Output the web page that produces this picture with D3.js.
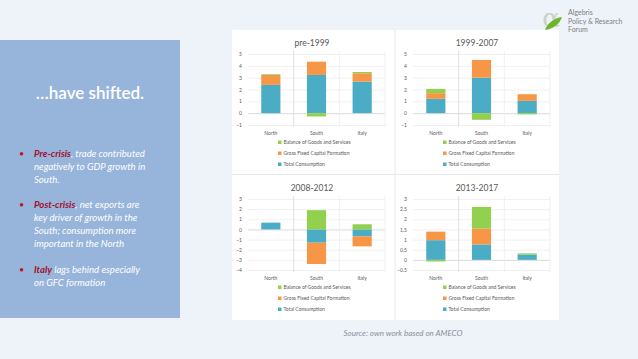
<!DOCTYPE html>
<html><head><meta charset="utf-8">
<script src="https://cdnjs.cloudflare.com/ajax/libs/d3/7.8.5/d3.min.js"></script>
<style>
html,body{margin:0;padding:0;background:#eef2f9;}
svg{display:block;}
</style></head>
<body><svg id="c" width="638" height="359"></svg>
<script>
const categories = ["North", "South", "Italy"];
const periods = ["pre-1999", "1999-2007", "2008-2012", "2013-2017"];
const seriesNames = ["Total Consumption", "Gross Fixed Capital Formation", "Balance of Goods and Services"];
const totalConsumption = [[2.39, 3.23, 2.67], [1.21, 3.0, 1.04], [0.67, -1.31, -0.67], [0.97, 0.76, 0.26]];
const grossFixedCapital = [[0.84, 1.12, 0.70], [0.48, 1.5, 0.56], [0.0, -2.1, -1.0], [0.42, 0.78, 0.0]];
const balanceGoodsServices = [[0.06, -0.28, 0.11], [0.36, -0.56, -0.1], [0.0, 1.9, 0.51], [-0.08, 1.07, 0.06]];
const yDomains = [[-1, 5], [-1, 5], [-4, 3], [-0.5, 3]];
const yTickValues = [[-1, 0, 1, 2, 3, 4, 5], [-1, 0, 1, 2, 3, 4, 5], [-4, -3, -2, -1, 0, 1, 2, 3], [-0.5, 0, 0.5, 1, 1.5, 2, 2.5, 3]];
const colors = ["#4bacc6", "#f79646", "#92d050"];

const svg = d3.select("#c");
svg.append("rect").attr("width", 638).attr("height", 359).attr("fill", "#eef2f9");

// left panel
svg.append("rect").attr("x", 0).attr("y", 40).attr("width", 180).attr("height", 278).attr("fill", "#97b4da");
svg.append("text").attr("x", 90).attr("y", 99).attr("text-anchor", "middle")
  .attr("font-family", "Lato").attr("font-size", 17).attr("font-weight", 600).attr("fill", "#ffffff")
  .text("\u2026have shifted.");

const bullets = [
  {y: 157, parts: [["Pre-crisis", true], [", trade contributed", false]], rest: ["negatively to GDP growth in", "South."]},
  {y: 208, parts: [["Post-crisis", true], [", net exports are", false]], rest: ["key driver of growth in the", "South; consumption more", "important in the North"]},
  {y: 273, parts: [["Italy", true], [" lags behind especially", false]], rest: ["on GFC formation"]}
];
const lh = 13;
bullets.forEach(b => {
  svg.append("text").attr("x", 19).attr("y", b.y).attr("font-family", "Lato").attr("font-size", 9)
    .attr("fill", "#c0102e").text("\u2022");
  const t = svg.append("text").attr("x", 34).attr("y", b.y).attr("font-family", "Lato")
    .attr("font-size", 9.6).attr("font-style", "italic").attr("fill", "#ffffff");
  b.parts.forEach(p => {
    t.append("tspan").attr("fill", p[1] ? "#a3122b" : "#ffffff").attr("font-weight", p[1] ? 700 : 400).text(p[0]);
  });
  b.rest.forEach((line, i) => {
    svg.append("text").attr("x", 34).attr("y", b.y + lh * (i + 1)).attr("font-family", "Lato")
      .attr("font-size", 9.6).attr("font-style", "italic").attr("fill", "#ffffff").text(line);
  });
});

// logo
const logo = svg.append("g");
logo.append("text").attr("x", 551).attr("y", 27).attr("text-anchor", "middle").attr("font-family", "DejaVu Serif")
  .attr("font-size", 26).attr("fill", "#c9d2c3").text("\u03b1");
logo.append("path").attr("d", "M545,30 C548,22 555,18 562,17 C560,24 553,29 545,30 Z").attr("fill", "#6fb52c");
["Algebris", "Policy & Research", "Forum"].forEach((s, i) => {
  logo.append("text").attr("x", 568).attr("y", 15 + i * 8.6).attr("font-family", "Lato").attr("font-size", 7)
    .attr("fill", "#808080").text(s);
});

// charts area
svg.append("rect").attr("x", 232).attr("y", 30).attr("width", 327).attr("height", 290).attr("fill", "#ffffff");
svg.append("line").attr("x1", 395).attr("x2", 395).attr("y1", 30).attr("y2", 320).attr("stroke", "#e6e8ea").attr("stroke-width", 1);
svg.append("line").attr("x1", 232).attr("x2", 559).attr("y1", 174.5).attr("y2", 174.5).attr("stroke", "#e6e8ea").attr("stroke-width", 1);

const panels = [{x: 230, y: 30}, {x: 395, y: 30}, {x: 230, y: 175}, {x: 395, y: 175}];

panels.forEach((p, pi) => {
  const g = svg.append("g").attr("transform", `translate(${p.x},${p.y})`);
  const plotL = 18, plotR = 155, plotT = 24, plotB = 95;
  const x = d3.scaleBand().domain(categories).range([plotL, plotR]).paddingInner(0.58).paddingOuter(0.29);
  const y = d3.scaleLinear().domain(yDomains[pi]).range([plotB, plotT]);
  const rows = categories.map((c, i) => ({cat: c, s0: totalConsumption[pi][i], s1: grossFixedCapital[pi][i], s2: balanceGoodsServices[pi][i]}));
  const stack = d3.stack().keys(["s0", "s1", "s2"]).offset(d3.stackOffsetDiverging);
  const layers = stack(rows);

  g.append("text").attr("x", 82).attr("y", 16).attr("text-anchor", "middle").attr("font-family", "Lato")
    .attr("font-size", 8.5).attr("fill", "#595959").text(periods[pi]);

  // gridlines
  const yAxis = d3.axisLeft(y).tickValues(yTickValues[pi]).tickSize(-(plotR - plotL)).tickFormat(d3.format("~g"));
  const ga = g.append("g").attr("transform", `translate(${plotL},0)`).call(yAxis);
  ga.select(".domain").remove();
  ga.selectAll(".tick line").attr("stroke", d => d === 0 ? "#d0d0d0" : "#ececec").attr("stroke-width", 0.8);
  ga.selectAll(".tick text").attr("x", -6).attr("font-family", "Lato").attr("font-size", 5).attr("fill", "#595959");

  // vertical separators between categories
  const step = x.step();
  const seps = categories.slice(1).map(c => x(c) - x.paddingInner() * step / 2);
  seps.push(plotR);
  g.selectAll("line.sep").data(seps).join("line").attr("class", "sep")
    .attr("x1", d => d).attr("x2", d => d).attr("y1", plotT - 3).attr("y2", plotB + 2)
    .attr("stroke", (d, i) => i === 0 ? "#d8d8d8" : "#ececec").attr("stroke-width", 0.8);

  layers.forEach((layer, li) => {
    g.selectAll(null).data(layer).join("rect")
      .attr("x", d => x(d.data.cat))
      .attr("width", x.bandwidth())
      .attr("y", d => y(Math.max(d[0], d[1])))
      .attr("height", d => Math.abs(y(d[0]) - y(d[1])))
      .attr("fill", colors[li]);
  });

  // category labels
  const xAxis = d3.axisBottom(x).tickSize(0);
  const gx = g.append("g").attr("transform", `translate(0,${plotB + 1})`).call(xAxis);
  gx.select(".domain").remove();
  gx.selectAll(".tick text").attr("dy", 6).attr("font-family", "Lato").attr("font-size", 5).attr("fill", "#595959");

  // legend
  const legendOrder = [2, 1, 0];
  legendOrder.forEach((si, k) => {
    const ly = 114 + k * 11;
    g.append("rect").attr("x", 48).attr("y", ly - 3.5).attr("width", 3.5).attr("height", 3.5).attr("fill", colors[si]);
    g.append("text").attr("x", 53.5).attr("y", ly).attr("font-family", "Lato").attr("font-size", 5).attr("fill", "#595959")
      .text(seriesNames[si]);
  });
});

svg.append("text").attr("x", 403).attr("y", 336).attr("text-anchor", "middle").attr("font-family", "Lato")
  .attr("font-size", 8).attr("font-style", "italic").attr("fill", "#8a8f9c").text("Source: own work based on AMECO");
</script>
</body></html>
